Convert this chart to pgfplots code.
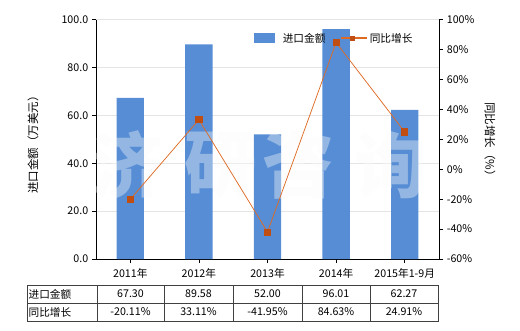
\documentclass[border=0pt]{standalone}
\usepackage{pgfplots}
\pgfplotsset{compat=1.18}
\usepackage{fontspec}
\setmainfont{Noto Sans CJK SC}
\definecolor{barblue}{RGB}{86,141,213}
\definecolor{lineor}{RGB}{222,105,35}
\definecolor{markor}{RGB}{192,78,18}
\definecolor{gridg}{RGB}{228,228,228}
\begin{document}
\fontsize{8}{10}\selectfont
\begin{tikzpicture}[x=0.75pt,y=-0.75pt]
\useasboundingbox (0,0) rectangle (520,330);
\begin{axis}[
  at={(72pt,-194.25pt)}, anchor=south west,
  scale only axis, width=257.25pt, height=179.6pt,
  xmin=-0.5, xmax=4.5, ymin=0, ymax=100,
  axis x line*=bottom, axis y line*=left,
  axis line style={black, line width=0.6pt},
  tick align=outside, major tick length=3pt,
  tick style={black, line width=0.6pt},
  xtick={0,1,2,3,4},
  xticklabels={2011年,2012年,2013年,2014年,2015年1-9月},
  ytick={0,20,40,60,80,100},
  yticklabel style={/pgf/number format/fixed,/pgf/number format/precision=1,/pgf/number format/fixed zerofill},
  /pgf/number format/assume math mode=true,
  ymajorgrids, grid style={gridg, line width=0.6pt},
  ticklabel style={font=\fontsize{8}{10}\selectfont},
  xticklabel style={yshift=-1pt},
  clip=false,
]
\addplot[ybar, bar width=20.5pt, fill=barblue, draw=none] coordinates {(0,67.30) (1,89.58) (2,52.00) (3,96.01) (4,62.27)};
\end{axis}
% watermark
\begin{scope}[every node/.style={text=white!98!black, opacity=0.38, font=\fontsize{54}{54}\selectfont\bfseries}]
\node at (127,165) {济};
\node at (220,165) {研};
\node at (298,165) {咨};
\node at (390,165) {询};
\end{scope}
\begin{axis}[
  at={(72pt,-194.25pt)}, anchor=south west,
  scale only axis, width=257.25pt, height=179.6pt,
  xmin=-0.5, xmax=4.5, ymin=-60, ymax=100,
  axis x line=none, axis y line*=right,
  axis line style={black, line width=0.6pt},
  tick align=outside, major tick length=3pt,
  tick style={black, line width=0.6pt},
  ytick={-60,-40,-20,0,20,40,60,80,100},
  yticklabel={\pgfmathprintnumber{\tick}\%},
  /pgf/number format/assume math mode=true,
  ticklabel style={font=\fontsize{8}{10}\selectfont},
  clip=false,
]
\addplot[color=lineor, line width=0.55pt, mark=square*, mark size=2.3pt, mark options={fill=markor, draw=markor}] coordinates {(0,-20.11) (1,33.11) (2,-41.95) (3,84.63) (4,24.91)};
\end{axis}
% axis labels
\node[rotate=90, font=\fontsize{8.6}{10}\selectfont] at (33,142) {进口金额（万美元）};
\node[rotate=-90, font=\fontsize{8.6}{10}\selectfont] at (490,142) {同比增长（\%）};
% legend
\fill[barblue] (254,33) rectangle (275,43);
\node[anchor=west] at (279,38) {进口金额};
\draw[lineor, line width=1.2pt] (341,38) -- (367,38);
\fill[markor] (350,35.5) rectangle (355,40.5);
\node[anchor=west] at (366,38) {同比增长};
% table
\draw[black!75, line width=0.6pt] (27,285) rectangle (438,321);
\draw[black!75, line width=0.6pt] (27,303) -- (438,303);
\foreach \xx in {97,164,233,302,370} \draw[black!75, line width=0.6pt] (\xx,285) -- (\xx,321);
\node[anchor=west, inner sep=1pt] at (27,294) {进口金额};
\node[anchor=west, inner sep=1pt] at (27,312) {同比增长};
\foreach \xx/\v in {130.5/67.30,198.5/89.58,267.5/52.00,336/96.01,404/62.27} \node at (\xx,294) {\v};
\foreach \xx/\v in {130.5/-20.11\%,198.5/33.11\%,267.5/-41.95\%,336/84.63\%,404/24.91\%} \node at (\xx,312) {\v};
\end{tikzpicture}
\end{document}
